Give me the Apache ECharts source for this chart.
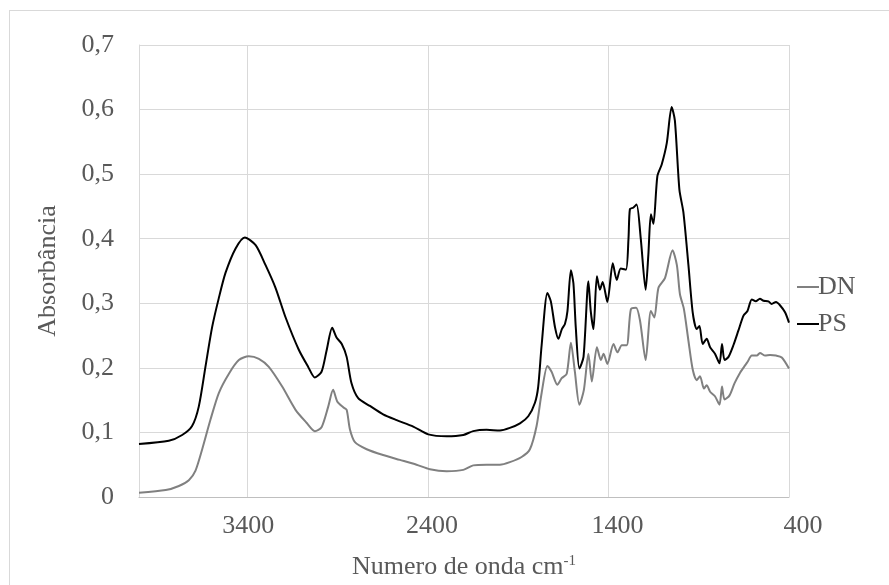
<!DOCTYPE html>
<html>
<head>
<meta charset="utf-8">
<script src="https://cdn.jsdelivr.net/npm/echarts@6/dist/echarts.min.js"></script>
<style>
html, body { margin: 0; padding: 0; background: #fff; width: 889px; height: 585px; overflow: hidden; }
#frame { position: absolute; left: 9px; top: 10px; width: 880px; height: 575px; border-left: 1px solid #d9d9d9; border-top: 1px solid #d9d9d9; box-sizing: border-box; }
#chart { position: absolute; left: 0; top: 0; width: 889px; height: 585px; }
</style>
</head>
<body>
<div id="frame"></div>
<div id="chart"></div>
<script>
// wavenumbers (cm-1) and absorbance
var psWave = [4000, 3835, 3761, 3706, 3669, 3632, 3595, 3558, 3521, 3465, 3414, 3354, 3299, 3244, 3188, 3115, 3063, 3026, 2989, 2961, 2930, 2906, 2877, 2850, 2823, 2786, 2721, 2648, 2573, 2481, 2398, 2296, 2204, 2149, 2075, 2001, 1946, 1890, 1844, 1807, 1789, 1770, 1738, 1719, 1696, 1677, 1658, 1641, 1627, 1608, 1594, 1581, 1561, 1538, 1511, 1498, 1483, 1464, 1447, 1432, 1406, 1376, 1354, 1332, 1303, 1289, 1281, 1263, 1244, 1221, 1194, 1179, 1165, 1151, 1129, 1105, 1077, 1050, 1032, 1007, 985, 957, 933, 911, 896, 878, 856, 837, 810, 785, 771, 757, 735, 708, 680, 652, 630, 606, 584, 561, 541, 514, 496, 472, 450, 422, 400];
var psAbs = [0.082, 0.087, 0.096, 0.110, 0.140, 0.2015, 0.263, 0.308, 0.347, 0.385, 0.402, 0.390, 0.359, 0.324, 0.278, 0.228, 0.2015, 0.185, 0.194, 0.227, 0.262, 0.247, 0.237, 0.217, 0.176, 0.153, 0.141, 0.128, 0.119, 0.109, 0.097, 0.094, 0.096, 0.102, 0.104, 0.103, 0.107, 0.114, 0.125, 0.146, 0.171, 0.235, 0.316, 0.303, 0.263, 0.245, 0.260, 0.268, 0.288, 0.351, 0.331, 0.263, 0.199, 0.217, 0.334, 0.288, 0.260, 0.342, 0.321, 0.333, 0.302, 0.362, 0.336, 0.354, 0.352, 0.400, 0.446, 0.448, 0.453, 0.400, 0.321, 0.375, 0.438, 0.423, 0.497, 0.515, 0.548, 0.604, 0.583, 0.476, 0.441, 0.359, 0.285, 0.260, 0.265, 0.237, 0.245, 0.232, 0.222, 0.207, 0.237, 0.212, 0.217, 0.235, 0.258, 0.281, 0.288, 0.306, 0.303, 0.307, 0.304, 0.303, 0.299, 0.302, 0.297, 0.286, 0.270];

var dnWave = [4000, 3852, 3779, 3724, 3687, 3650, 3604, 3558, 3502, 3447, 3392, 3336, 3281, 3207, 3133, 3072, 3026, 2989, 2952, 2925, 2902, 2869, 2850, 2832, 2804, 2739, 2648, 2555, 2463, 2389, 2296, 2204, 2149, 2075, 2001, 1946, 1881, 1835, 1798, 1770, 1738, 1715, 1683, 1659, 1631, 1608, 1586, 1561, 1536, 1511, 1492, 1464, 1442, 1427, 1406, 1372, 1350, 1326, 1299, 1276, 1247, 1225, 1194, 1165, 1146, 1123, 1087, 1045, 1021, 1004, 982, 957, 933, 911, 893, 871, 856, 837, 810, 785, 771, 757, 730, 702, 674, 649, 630, 606, 578, 561, 532, 505, 472, 440, 400];
var dnAbs = [0.0066, 0.0107, 0.017, 0.026, 0.041, 0.074, 0.120, 0.161, 0.191, 0.212, 0.218, 0.214, 0.2015, 0.171, 0.135, 0.115, 0.102, 0.108, 0.140, 0.166, 0.148, 0.139, 0.135, 0.105, 0.085, 0.074, 0.065, 0.0575, 0.050, 0.043, 0.040, 0.042, 0.049, 0.050, 0.050, 0.054, 0.062, 0.074, 0.110, 0.161, 0.203, 0.194, 0.174, 0.184, 0.191, 0.239, 0.194, 0.143, 0.166, 0.222, 0.179, 0.232, 0.212, 0.222, 0.206, 0.237, 0.224, 0.235, 0.235, 0.2905, 0.293, 0.273, 0.212, 0.288, 0.278, 0.324, 0.339, 0.382, 0.359, 0.314, 0.291, 0.242, 0.197, 0.181, 0.187, 0.168, 0.173, 0.163, 0.156, 0.143, 0.171, 0.151, 0.157, 0.176, 0.191, 0.2015, 0.209, 0.219, 0.219, 0.223, 0.219, 0.220, 0.219, 0.216, 0.199];

var yTicks = [0, 0.1, 0.2, 0.3, 0.4, 0.5, 0.6, 0.7];
var xTicks = [400, 1400, 2400, 3400];

function pairs(xs, ys) {
  return xs.map(function (x, i) { return [x, ys[i]]; });
}

var textColor = "#595959";
var font = "'Liberation Serif', 'Times New Roman', serif";
var fs = 26;

// the labels in the picture sit a little right of their grid lines
var labelShift = { 3400: 1, 2400: 4, 1400: 9, 400: 14 };
var xRich = {};
xTicks.forEach(function (t) {
  xRich["t" + t] = { color: textColor, fontSize: fs, fontFamily: font, padding: [0, 0, 0, labelShift[t] * 2] };
});

var chart = echarts.init(document.getElementById("chart"));
chart.setOption({
  animation: false,
  textStyle: { fontFamily: font },
  grid: { left: 139, right: 100, top: 45, bottom: 83 },
  legend: {
    orient: "vertical",
    left: 792,
    top: 269,
    itemWidth: 22,
    itemHeight: 2,
    itemGap: 11,
    icon: "rect",
    textStyle: { color: textColor, fontSize: fs, fontFamily: font, padding: [0, 0, 0, -6] },
    data: ["DN", "PS"]
  },
  xAxis: {
    type: "value",
    inverse: true,
    min: 400,
    max: 4000,
    interval: 1000,
    name: "Numero de onda cm{sup|-1}",
    nameLocation: "middle",
    nameGap: 57,
    nameTextStyle: {
      color: textColor,
      fontSize: fs,
      fontFamily: font,
      rich: { sup: { fontSize: 15, color: textColor, fontFamily: font, verticalAlign: "top", padding: [0, 0, 11, 0] } }
    },
    axisLine: { show: true, lineStyle: { color: "#bfbfbf", width: 1 } },
    axisTick: { show: false },
    axisLabel: {
      color: textColor,
      fontSize: fs,
      margin: 16,
      showMaxLabel: false,
      rich: xRich,
      formatter: function (v) { return xRich["t" + v] ? "{t" + v + "|" + v + "}" : ""; }
    },
    splitLine: { show: true, lineStyle: { color: "#d9d9d9", width: 1 } }
  },
  yAxis: {
    type: "value",
    min: yTicks[0],
    max: yTicks[yTicks.length - 1],
    interval: 0.1,
    name: "Absorbância",
    nameLocation: "middle",
    nameRotate: 90,
    nameGap: 78,
    nameTextStyle: { color: textColor, fontSize: fs, fontFamily: font },
    axisLine: { show: true, lineStyle: { color: "#d9d9d9", width: 1 } },
    axisTick: { show: false },
    axisLabel: {
      color: textColor,
      fontSize: fs,
      margin: 25,
      formatter: function (v) { return v === 0 ? "0" : v.toFixed(1).replace(".", ","); }
    },
    splitLine: { show: true, lineStyle: { color: "#d9d9d9", width: 1 } }
  },
  series: [
    {
      name: "DN",
      type: "line",
      data: pairs(dnWave, dnAbs),
      showSymbol: false,
      smooth: 0.25,
      lineStyle: { color: "#808080", width: 2 },
      itemStyle: { color: "#808080" }
    },
    {
      name: "PS",
      type: "line",
      data: pairs(psWave, psAbs),
      showSymbol: false,
      smooth: 0.25,
      lineStyle: { color: "#000000", width: 2 },
      itemStyle: { color: "#000000" }
    }
  ]
});
</script>
</body>
</html>
